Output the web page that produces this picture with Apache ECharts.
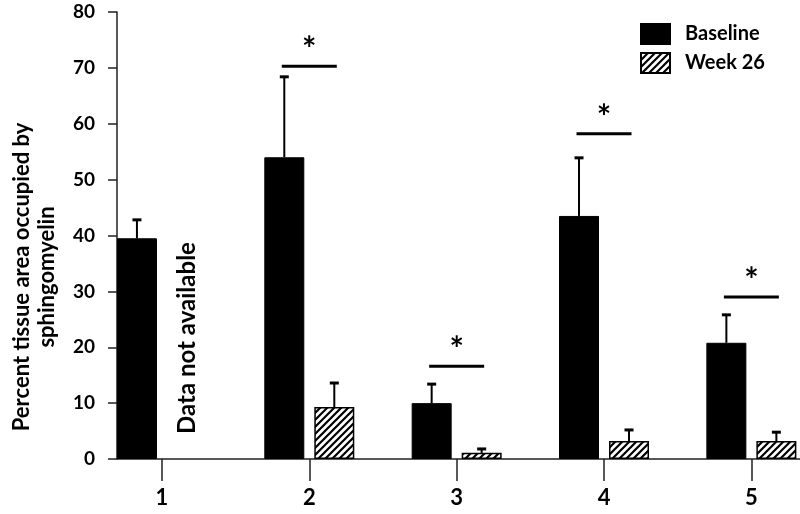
<!DOCTYPE html>
<html>
<head>
<meta charset="utf-8">
<script src="https://cdn.jsdelivr.net/npm/echarts@6/dist/echarts.min.js"></script>
<style>
  html, body { margin: 0; padding: 0; background: #fff; }
  #container { width: 800px; height: 514px; }
</style>
</head>
<body>
<div id="container"></div>
<script>
var groups = [1, 2, 3, 4, 5];
var baseline = [39.5, 54.0, 10.0, 43.5, 20.8];
var baselineErr = [3.3, 14.4, 3.4, 10.4, 5.0];
var week26 = [null, 9.3, 1.1, 3.2, 3.2];
var week26Err = [null, 4.3, 0.7, 2.0, 1.6];
var sigY = [null, 70.3, 16.6, 58.2, 29.0];

var FONT = 'Lato, "Open Sans", sans-serif';
var BAR_W = 40;
var OFF = 25; // half of bar width + gap, px

function hatch() {
    var c = document.createElement('canvas');
    c.width = 7;
    c.height = 7;
    var g = c.getContext('2d');
    g.fillStyle = '#fff';
    g.fillRect(0, 0, 7, 7);
    g.strokeStyle = '#000';
    g.lineWidth = 2.2;
    g.beginPath();
    g.moveTo(-1, 8); g.lineTo(8, -1);
    g.moveTo(-4.5, 4.5); g.lineTo(4.5, -4.5);
    g.moveTo(2.5, 11.5); g.lineTo(11.5, 2.5);
    g.stroke();
    return c;
}

function pairs(vals) {
    return groups.map(function (g, i) { return [g, vals[i]]; });
}

function errData() {
    var out = [];
    groups.forEach(function (g, i) {
        if (baseline[i] != null) out.push([g, baseline[i], baselineErr[i], -OFF]);
        if (week26[i] != null) out.push([g, week26[i], week26Err[i], OFF]);
    });
    return out;
}

function sigData() {
    var out = [];
    groups.forEach(function (g, i) {
        if (sigY[i] != null) out.push([g, sigY[i]]);
    });
    return out;
}

var dom = document.getElementById("container");
var myChart = echarts.init(dom);
var option = {
    animation: false,
    backgroundColor: '#fff',
    textStyle: { fontFamily: FONT },
    grid: { left: 117, right: 0, top: 12, bottom: 55 },
    legend: {
        orient: 'vertical',
        left: 635,
        top: 18,
        icon: 'rect',
        itemWidth: 29,
        itemHeight: 20,
        itemGap: 7,
        textStyle: { fontFamily: FONT, fontWeight: 'bold', fontSize: 20, color: '#000', padding: [0, 0, 0, 10] },
        data: ['Baseline', 'Week 26']
    },
    xAxis: {
        type: 'value',
        min: 0.695,
        max: 5.33,
        splitLine: { show: false },
        axisLine: { show: true, lineStyle: { color: '#222', width: 1.5 } },
        axisTick: { show: true, customValues: groups, length: 22, lineStyle: { color: '#222', width: 1.5 } },
        axisLabel: {
            customValues: groups,
            margin: 28,
            fontFamily: FONT,
            fontWeight: 'bold',
            fontSize: 22,
            color: '#000'
        }
    },
    yAxis: {
        type: 'value',
        min: 0,
        max: 80,
        interval: 10,
        splitLine: { show: false },
        axisLine: { show: true, lineStyle: { color: '#222', width: 1.5 } },
        axisTick: { show: true, length: 9, lineStyle: { color: '#222', width: 1.5 } },
        axisLabel: {
            margin: 22,
            fontFamily: FONT,
            fontWeight: 'bold',
            fontSize: 19,
            color: '#000'
        }
    },
    graphic: [{
        type: 'text',
        x: 34,
        y: 277,
        rotation: Math.PI / 2,
        style: {
            text: 'Percent tissue area occupied by\nsphingomyelin',
            font: 'bold 22px ' + FONT,
            fill: '#000',
            align: 'center',
            verticalAlign: 'middle',
            lineHeight: 25
        }
    }, {
        type: 'text',
        x: 187,
        y: 338,
        rotation: Math.PI / 2,
        style: {
            text: 'Data not available',
            font: 'bold 24px ' + FONT,
            fill: '#000',
            align: 'center',
            verticalAlign: 'middle'
        }
    }],
    series: [{
        name: 'Baseline',
        type: 'bar',
        barWidth: BAR_W,
        barGap: '25%',
        data: pairs(baseline),
        itemStyle: { color: '#000', borderColor: '#000', borderWidth: 1 }
    }, {
        name: 'Week 26',
        type: 'bar',
        barWidth: BAR_W,
        barGap: '25%',
        data: pairs(week26),
        itemStyle: {
            color: { image: hatch(), repeat: 'repeat' },
            borderColor: '#000',
            borderWidth: 1.5
        }
    }, {
        type: 'custom',
        silent: true,
        z: 5,
        data: errData(),
        renderItem: function (params, api) {
            var x = api.value(0), y = api.value(1), e = api.value(2), off = api.value(3);
            var p0 = api.coord([x, y]);
            var p1 = api.coord([x, y + e]);
            var cx = p0[0] + off;
            return {
                type: 'group',
                children: [{
                    type: 'line',
                    shape: { x1: cx, y1: p0[1], x2: cx, y2: p1[1] },
                    style: { stroke: '#000', lineWidth: 2 }
                }, {
                    type: 'line',
                    shape: { x1: cx - 4.5, y1: p1[1], x2: cx + 4.5, y2: p1[1] },
                    style: { stroke: '#000', lineWidth: 3 }
                }]
            };
        }
    }, {
        type: 'custom',
        silent: true,
        z: 5,
        data: sigData(),
        renderItem: function (params, api) {
            var p = api.coord([api.value(0), api.value(1)]);
            return {
                type: 'group',
                children: [{
                    type: 'line',
                    shape: { x1: p[0] - 27.5, y1: p[1], x2: p[0] + 27.5, y2: p[1] },
                    style: { stroke: '#000', lineWidth: 3 }
                }, {
                    type: 'text',
                    x: p[0],
                    y: p[1] - 16,
                    style: {
                        text: '*',
                        font: 'bold 34px ' + FONT,
                        fill: '#000',
                        align: 'center',
                        verticalAlign: 'middle'
                    }
                }]
            };
        }
    }]
};
if (option && typeof option === "object") {
    myChart.setOption(option, true);
}
</script>
</body>
</html>
